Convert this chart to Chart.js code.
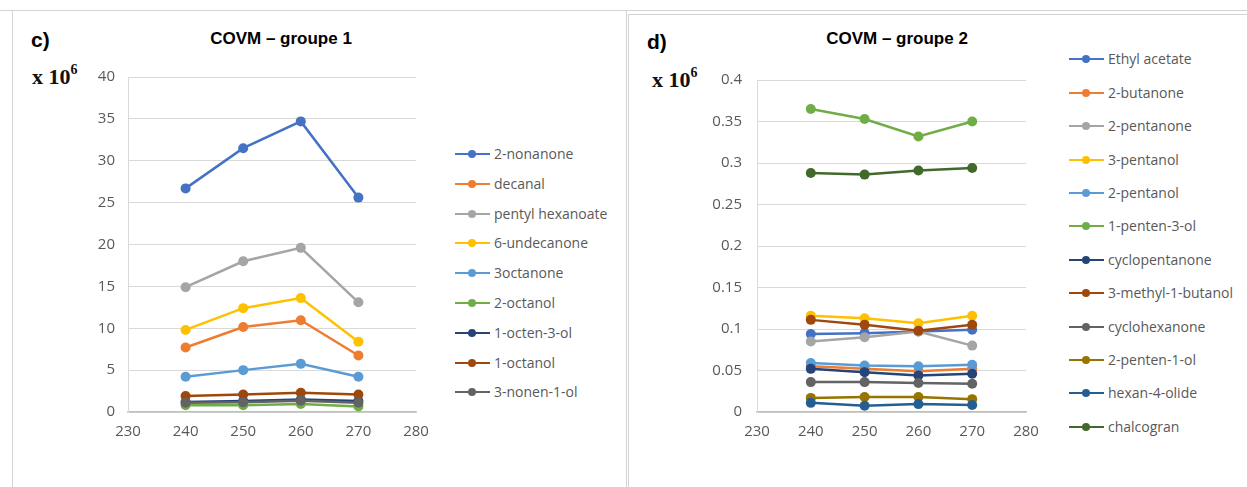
<!DOCTYPE html>
<html>
<head>
<meta charset="utf-8">
<script src="https://cdn.jsdelivr.net/npm/chart.js@4"></script>
<style>
  html, body { margin: 0; padding: 0; background: #fff; }
  body { width: 1247px; height: 487px; position: relative; overflow: hidden; font-family: "Open Sans", sans-serif; }
  .abs { position: absolute; }
  .hline { position: absolute; height: 1px; background: #d4d4d4; }
  .vline { position: absolute; width: 1px; background: #d4d4d4; }
  .tag { font-family: "Liberation Sans", Arial, sans-serif; font-weight: bold; font-size: 21px; color: #000; }
  .unit { font-family: "Liberation Serif", "Times New Roman", serif; font-weight: bold; font-size: 22px; color: #111; white-space: nowrap; }
  .unit sup { font-size: 14px; position: relative; top: -2px; }
  .title { font-family: "Liberation Sans", Arial, sans-serif; font-weight: bold; font-size: 17px; color: #000; white-space: nowrap; transform: translate(-50%, -50%); }
  .leg { position: absolute; height: 20px; white-space: nowrap; font-size: 14px; color: #595959; }
  .leg .ln { position: absolute; left: 0; top: 9px; width: 35px; height: 2px; }
  .leg .dt { position: absolute; left: 13px; top: 6px; width: 8px; height: 8px; border-radius: 50%; }
  .leg .tx { position: absolute; left: 39px; top: 0; line-height: 20px; }
  canvas { position: absolute; }
</style>
</head>
<body>
<!-- panel frames -->
<div class="hline" style="left:0; top:10px; width:1247px;"></div>
<div class="vline" style="left:12px; top:10px; height:477px;"></div>
<div class="vline" style="left:626px; top:10px; height:477px;"></div>
<div class="hline" style="left:628px; top:14px; width:619px;"></div>
<div class="vline" style="left:628px; top:14px; height:473px;"></div>

<div class="abs tag" style="left:31px; top:28px;">c)</div>
<div class="abs unit" style="left:32px; top:64px;">x 10<sup>6</sup></div>
<div class="abs title" style="left:281px; top:39px;">COVM – groupe 1</div>

<div class="abs tag" style="left:647px; top:30px;">d)</div>
<div class="abs unit" style="left:652px; top:67px;">x 10<sup>6</sup></div>
<div class="abs title" style="left:897px; top:39px;">COVM – groupe 2</div>

<canvas id="chart1" width="400" height="410" style="left:40px; top:55px;"></canvas>
<canvas id="chart2" width="370" height="410" style="left:680px; top:55px;"></canvas>
<div id="legend1"></div>
<div id="legend2"></div>

<script>
// excitation wavelengths shared by both groups
const xVals = [240, 250, 260, 270];

// group 1 (x 10^6)
const group1Names = ["2-nonanone", "decanal", "pentyl hexanoate", "6-undecanone", "3octanone",
  "2-octanol", "1-octen-3-ol", "1-octanol", "3-nonen-1-ol"];
const nonanone2 = [26.7, 31.5, 34.7, 25.6];
const decanal = [7.7, 10.15, 10.95, 6.75];
const pentylHexanoate = [14.9, 18.0, 19.6, 13.1];
const undecanone6 = [9.8, 12.4, 13.6, 8.4];
const octanone3 = [4.2, 5.0, 5.75, 4.2];
const octanol2 = [0.8, 0.8, 0.95, 0.65];
const octen3ol1 = [1.2, 1.3, 1.5, 1.3];
const octanol1 = [1.9, 2.1, 2.3, 2.1];
const nonen1ol3 = [1.1, 1.15, 1.35, 1.1];
const group1Values = [nonanone2, decanal, pentylHexanoate, undecanone6, octanone3,
  octanol2, octen3ol1, octanol1, nonen1ol3];
const group1Colors = ["#4472C4", "#ED7D31", "#A5A5A5", "#FFC000", "#5B9BD5",
  "#70AD47", "#264478", "#9E480E", "#636363"];
const group1Ticks = { min: 0, max: 40, step: 5 };

// group 2 (x 10^6)
const group2Names = ["Ethyl acetate", "2-butanone", "2-pentanone", "3-pentanol", "2-pentanol",
  "1-penten-3-ol", "cyclopentanone", "3-methyl-1-butanol", "cyclohexanone", "2-penten-1-ol",
  "hexan-4-olide", "chalcogran"];
const ethylAcetate = [0.094, 0.095, 0.097, 0.099];
const butanone2 = [0.055, 0.052, 0.049, 0.052];
const pentanone2 = [0.085, 0.090, 0.097, 0.080];
const pentanol3 = [0.116, 0.113, 0.107, 0.116];
const pentanol2 = [0.059, 0.056, 0.055, 0.057];
const penten3ol1 = [0.365, 0.353, 0.332, 0.350];
const cyclopentanone = [0.052, 0.048, 0.044, 0.046];
const methylButanol = [0.111, 0.105, 0.098, 0.105];
const cyclohexanone = [0.036, 0.036, 0.035, 0.034];
const penten1ol2 = [0.017, 0.018, 0.018, 0.0155];
const hexan4olide = [0.011, 0.0075, 0.0095, 0.0085];
const chalcogran = [0.288, 0.286, 0.291, 0.294];
const group2Values = [ethylAcetate, butanone2, pentanone2, pentanol3, pentanol2, penten3ol1,
  cyclopentanone, methylButanol, cyclohexanone, penten1ol2, hexan4olide, chalcogran];
const group2Colors = ["#4472C4", "#ED7D31", "#A5A5A5", "#FFC000", "#5B9BD5", "#70AD47",
  "#264478", "#9E480E", "#636363", "#997300", "#255E91", "#43682B"];
const group2Ticks = { min: 0, max: 0.4, step: 0.05 };

const xTicks = { min: 230, max: 280, step: 10 };

function makeDatasets(names, values, colors) {
  return names.map((name, i) => ({
    label: name,
    data: xVals.map((x, j) => ({ x: x, y: values[i][j] })),
    borderColor: colors[i],
    backgroundColor: colors[i],
    pointBackgroundColor: colors[i],
    pointBorderColor: colors[i],
    borderWidth: 2.5,
    pointRadius: 5,
    pointBorderWidth: 0,
    tension: 0,
    // later series sit on top, like the spreadsheet drawing order
    order: names.length - i,
  }));
}

function makeChart(id, names, values, colors, yTicks, yWidth, padTop, padRight, yPad) {
  return new Chart(document.getElementById(id), {
    type: "line",
    data: { datasets: makeDatasets(names, values, colors) },
    options: {
      responsive: false,
      animation: false,
      devicePixelRatio: 1,
      layout: { padding: { top: padTop, right: padRight, left: 0, bottom: 0 } },
      plugins: { legend: { display: false }, tooltip: { enabled: false } },
      scales: {
        x: {
          type: "linear",
          min: xTicks.min,
          max: xTicks.max,
          grid: { display: false, drawTicks: false },
          border: { display: true, color: "#bfbfbf", width: 1.5 },
          ticks: { stepSize: xTicks.step, color: "#595959", padding: 11, font: { family: "Open Sans", size: 15 } },
          afterFit: (s) => { s.height = 53; },
        },
        y: {
          min: yTicks.min,
          max: yTicks.max,
          grid: { color: "#d9d9d9", lineWidth: 1, drawTicks: false },
          border: { display: true, color: "#d9d9d9" },
          ticks: {
            stepSize: yTicks.step,
            color: "#595959",
            padding: yPad,
            font: { family: "Open Sans", size: 15 },
            callback: (v) => String(parseFloat(Number(v).toFixed(2))),
          },
          afterFit: (s) => { s.width = yWidth; },
        },
      },
    },
  });
}

makeChart("chart1", group1Names, group1Values, group1Colors, group1Ticks, 88, 20, 24, 13);
makeChart("chart2", group2Names, group2Values, group2Colors, group2Ticks, 77, 25, 24, 15);

function makeLegend(id, names, colors, left, top, step) {
  const box = document.getElementById(id);
  names.forEach((name, i) => {
    const row = document.createElement("div");
    row.className = "leg";
    row.style.left = left + "px";
    row.style.top = (top + i * step - 10) + "px";
    row.innerHTML = '<div class="ln" style="background:' + colors[i] + '"></div>' +
      '<div class="dt" style="background:' + colors[i] + '"></div>' +
      '<div class="tx">' + name + '</div>';
    box.appendChild(row);
  });
}

makeLegend("legend1", group1Names, group1Colors, 455, 154, 29.8);
makeLegend("legend2", group2Names, group2Colors, 1069, 59.3, 33.4);
</script>
</body>
</html>
